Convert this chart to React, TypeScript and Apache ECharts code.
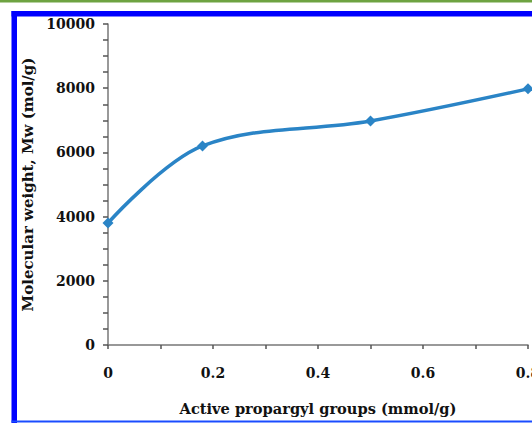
import React, { useEffect, useRef } from "react";
import * as echarts from "echarts";

const groups = [0, 0.18, 0.5, 0.8];
const mw = [3800, 6200, 6980, 7980];
const xTitle = "Active propargyl groups (mmol/g)";
const yTitle = "Molecular weight, Mw (mol/g)";

export default function App() {
  const ref = useRef<HTMLDivElement>(null);
  useEffect(() => {
    document.body.style.margin = "0";
    const chart = echarts.init(ref.current!, null, { renderer: "svg" });
    const font = "'DejaVu Serif', 'Liberation Serif', serif";
    chart.setOption({
      animation: false,
      backgroundColor: "#ffffff",
      grid: { left: 108, top: 24, right: 4, bottom: 78, containLabel: false, outerBoundsMode: "none" },
      graphic: [
        { type: "rect", shape: { x: 0, y: 0, width: 532, height: 2.5 }, style: { fill: "#6ea342" }, silent: true },
        { type: "rect", shape: { x: 11.5, y: 11, width: 540, height: 5.5 }, style: { fill: "#0000ff" }, silent: true },
        { type: "rect", shape: { x: 11.5, y: 11, width: 5.5, height: 420 }, style: { fill: "#0000ff" }, silent: true },
        { type: "rect", shape: { x: 11.5, y: 420.5, width: 540, height: 2 }, style: { fill: "#1a4cff" }, silent: true },
      ],
      xAxis: {
        type: "value",
        min: 0,
        max: 0.8,
        interval: 0.2,
        name: xTitle,
        nameLocation: "middle",
        nameGap: 56,
        nameTextStyle: { fontFamily: font, fontWeight: "bold", fontSize: 14.6, color: "#111" },
        axisLine: { show: true, lineStyle: { color: "#777", width: 1.5 } },
        axisTick: { show: true, length: 4, inside: false, lineStyle: { color: "#555", width: 1.5 } },
        minorTick: { show: true, splitNumber: 2, length: 4, lineStyle: { color: "#555", width: 1.5 } },
        splitLine: { show: false },
        axisLabel: {
          fontFamily: font,
          fontWeight: "bold",
          fontSize: 14,
          color: "#111",
          margin: 21,
          showMaxLabel: true,
          hideOverlap: false,
          formatter: (v: number) => (v === 0 ? "0" : v.toFixed(1)),
        },
      },
      yAxis: {
        type: "value",
        min: 0,
        max: 10000,
        interval: 2000,
        name: yTitle,
        nameLocation: "middle",
        nameGap: 70,
        nameTextStyle: { fontFamily: font, fontWeight: "bold", fontSize: 15, color: "#111" },
        axisLine: { show: true, lineStyle: { color: "#777", width: 1.5 } },
        axisTick: { show: true, length: 5, lineStyle: { color: "#555", width: 1.5 } },
        minorTick: { show: true, splitNumber: 4, length: 5, lineStyle: { color: "#555", width: 1.5 } },
        splitLine: { show: false },
        axisLabel: {
          fontFamily: font,
          fontWeight: "bold",
          fontSize: 14,
          color: "#111",
          margin: 13,
          formatter: (v: number) => String(v),
        },
      },
      series: [
        {
          type: "line",
          data: groups.map((g, i) => [g, mw[i]]),
          smooth: 0.35,
          symbol: "diamond",
          symbolSize: 11,
          lineStyle: { color: "#2a84c6", width: 3.5 },
          itemStyle: { color: "#2a84c6" },
          clip: false,
        },
      ],
    });
    return () => chart.dispose();
  }, []);
  return (
    <div style={{ position: "fixed", left: 0, top: 0, width: 532, height: 423, overflow: "hidden" }}>
      <div ref={ref} style={{ width: 532, height: 423 }} />
    </div>
  );
}
